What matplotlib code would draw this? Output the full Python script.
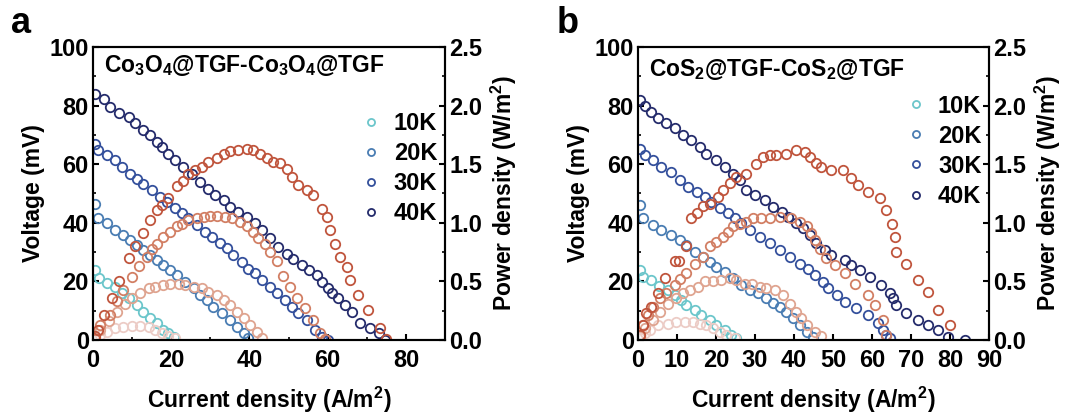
import matplotlib
matplotlib.use("Agg")
import matplotlib.pyplot as plt
from matplotlib.ticker import MultipleLocator

plt.rcParams['font.family'] = ['Liberation Sans', 'DejaVu Sans']
plt.rcParams['font.weight'] = 'bold'
plt.rcParams['axes.labelweight'] = 'bold'
plt.rcParams['mathtext.fontset'] = 'custom'
plt.rcParams['mathtext.rm'] = 'Liberation Sans:bold'
plt.rcParams['mathtext.it'] = 'Liberation Sans:bold'
plt.rcParams['mathtext.bf'] = 'Liberation Sans:bold'

labels = ["10K", "20K", "30K", "40K"]
v_colors = ["#6cc6cb", "#4a7db3", "#34509c", "#252c6c"]
p_colors = ["#ecccc6", "#dfa490", "#d27f64", "#c0553d"]

# panel a: Co3O4@TGF
a_xv10 = [0.4, 1.6, 3.6, 5.7, 7.4, 9.1, 11.2, 12.9, 14.6, 16.3, 18.0, 19.3, 20.6]
a_v10 = [23.9, 21.0, 19.3, 18.0, 15.9, 14.2, 11.9, 9.7, 7.4, 5.7, 3.4, 2.3, 1.1]
a_xp10 = [0.4, 1.9, 3.6, 5.7, 7.8, 10.0, 12.1, 14.2, 15.9, 17.6, 19.3, 21.0]
a_p10 = [0.01, 0.04, 0.07, 0.10, 0.11, 0.12, 0.12, 0.11, 0.085, 0.057, 0.034, 0.015]

a_xv20 = [0.4, 1.4, 3.6, 5.7, 7.8, 9.5, 11.2, 12.9, 14.6, 16.3, 18.0, 19.7, 21.4, 23.6,
          25.7, 27.4, 29.1, 30.8, 32.9, 35.1, 36.8, 38.5, 39.7]
a_v20 = [46.4, 41.5, 39.8, 37.5, 35.8, 34.1, 32.4, 30.7, 29.0, 27.3, 25.6, 23.9, 22.2, 19.9,
         17.6, 15.3, 13.6, 11.4, 9.1, 6.8, 4.5, 2.3, 0.6]
a_xp20 = [0.5, 1.9, 4.0, 6.1, 8.3, 10.0, 12.1, 14.2, 15.9, 18.0, 19.7, 21.9, 23.6, 25.7,
          27.8, 29.5, 31.7, 33.4, 35.1, 36.8, 38.5, 40.2, 41.9, 43.1]
a_p20 = [0.02, 0.085, 0.16, 0.24, 0.31, 0.355, 0.40, 0.44, 0.455, 0.47, 0.48, 0.48, 0.47, 0.455,
         0.44, 0.41, 0.38, 0.34, 0.30, 0.24, 0.185, 0.13, 0.07, 0.015]

a_xv30 = [0.4, 1.4, 3.6, 5.7, 7.4, 9.5, 11.2, 12.9, 15.1, 17.2, 18.9, 21.0, 22.7, 24.4, 26.6,
          28.7, 30.4, 32.6, 34.2, 35.9, 38.0, 39.7, 41.4, 43.1, 45.3, 47.0, 49.1, 50.8, 52.5,
          54.6, 56.8, 58.5, 60.2]
a_v30 = [67.0, 64.8, 63.1, 61.4, 59.1, 56.8, 55.1, 53.4, 51.1, 48.9, 47.2, 44.9, 43.2, 41.5, 39.2,
         36.9, 35.2, 33.0, 31.3, 29.0, 26.7, 24.4, 22.7, 20.5, 18.2, 15.9, 13.6, 11.4, 9.1,
         6.8, 3.4, 1.1, 0.0]
a_xp30 = [0.4, 1.9, 4.4, 6.1, 7.8, 10.0, 11.7, 13.8, 15.1, 16.3, 18.0, 19.7, 21.4, 22.7, 24.4,
          26.6, 28.3, 30.0, 31.7, 33.8, 35.5, 37.6, 39.3, 41.0, 42.3, 44.0, 45.3, 47.0, 48.7,
          50.4, 52.1, 54.2, 56.3, 58.0, 59.3]
a_p30 = [0.01, 0.13, 0.21, 0.33, 0.43, 0.54, 0.63, 0.71, 0.78, 0.82, 0.88, 0.92, 0.97, 0.99, 1.02,
         1.04, 1.05, 1.06, 1.06, 1.05, 1.04, 1.01, 0.97, 0.92, 0.87, 0.82, 0.75, 0.67, 0.55,
         0.45, 0.355, 0.27, 0.17, 0.06, 0.01]

a_xv40 = [0.6, 2.7, 4.4, 6.6, 9.1, 10.8, 12.9, 14.6, 16.3, 17.6, 19.3, 21.0, 23.1, 25.3, 27.4,
          29.5, 31.2, 33.4, 35.1, 37.2, 39.3, 41.4, 43.1, 45.3, 47.4, 49.6, 51.2, 53.4, 55.1,
          57.2, 58.5, 60.2, 61.0, 62.7, 64.4, 66.1, 68.3, 70.8, 73.0, 74.6]
a_v40 = [84.0, 82.4, 79.5, 77.5, 76.1, 73.9, 71.6, 69.9, 67.6, 65.9, 63.6, 61.4, 59.1, 56.8, 54.0,
         51.7, 49.4, 47.7, 45.5, 43.8, 42.0, 39.8, 37.5, 34.7, 31.8, 29.5, 27.8, 25.6, 23.9,
         22.2, 19.9, 17.6, 15.9, 14.2, 11.9, 9.7, 5.7, 4.0, 2.3, 0.0]
a_xp40 = [0.4, 1.3, 2.7, 4.9, 6.6, 9.1, 10.8, 12.9, 14.6, 16.3, 17.6, 19.3, 21.4, 23.1, 24.4,
          26.1, 27.8, 29.5, 31.7, 33.4, 35.1, 37.2, 39.3, 41.0, 42.7, 44.4, 46.1, 47.8, 49.5,
          50.8, 52.5, 54.6, 56.3, 58.5, 59.7, 60.6, 61.9, 63.1, 64.9, 65.7, 67.8, 70.4, 73.4, 75.0]
a_p40 = [0.03, 0.085, 0.21, 0.355, 0.50, 0.70, 0.80, 0.91, 1.02, 1.11, 1.15, 1.21, 1.31, 1.36, 1.42,
         1.45, 1.48, 1.52, 1.55, 1.59, 1.61, 1.62, 1.63, 1.62, 1.59, 1.55, 1.52, 1.51, 1.46,
         1.39, 1.32, 1.28, 1.24, 1.12, 1.05, 0.94, 0.82, 0.71, 0.625, 0.51, 0.38, 0.26, 0.10, 0.01]

# panel b: CoS2@TGF
b_xv10 = [0.4, 1.3, 3.4, 5.5, 7.7, 9.4, 11.1, 12.4, 14.5, 16.2, 18.4, 20.1, 22.2, 23.9, 25.2]
b_v10 = [23.9, 21.6, 20.5, 18.5, 17.0, 15.3, 13.6, 11.9, 10.2, 8.5, 6.8, 5.1, 3.4, 1.7, 0.6]
b_xp10 = [0.4, 1.7, 3.0, 5.1, 7.7, 9.8, 12.0, 14.1, 15.8, 17.5, 19.2, 20.9, 22.6, 24.8]
b_p10 = [0.015, 0.057, 0.085, 0.13, 0.14, 0.15, 0.155, 0.155, 0.14, 0.13, 0.10, 0.07, 0.04, 0.015]

b_xv20 = [0.4, 1.3, 3.8, 6.0, 8.5, 10.7, 12.4, 14.5, 16.7, 18.4, 20.1, 22.2, 24.4, 26.5, 28.6,
          30.8, 32.9, 34.6, 36.3, 38.0, 39.7, 41.5, 43.2, 44.9]
b_v20 = [46.0, 41.5, 39.2, 37.5, 35.8, 34.1, 32.4, 30.1, 28.4, 26.7, 25.0, 23.3, 21.0, 18.8, 17.0,
         15.9, 14.2, 12.5, 11.4, 9.7, 7.4, 5.1, 2.8, 1.1]
b_xp20 = [0.4, 1.7, 3.8, 5.6, 7.7, 9.8, 11.5, 13.2, 15.4, 17.1, 19.2, 21.4, 23.5, 25.2, 27.4,
          29.1, 31.2, 32.9, 35.0, 37.2, 38.9, 40.6, 41.9, 43.2, 45.3, 47.0]
b_p20 = [0.03, 0.10, 0.17, 0.24, 0.31, 0.355, 0.40, 0.43, 0.455, 0.50, 0.50, 0.51, 0.525, 0.51, 0.48,
         0.48, 0.455, 0.44, 0.43, 0.38, 0.31, 0.24, 0.185, 0.13, 0.07, 0.03]

b_xv30 = [0.4, 1.7, 3.8, 6.0, 8.5, 10.7, 12.8, 15.0, 17.1, 18.8, 20.9, 23.1, 24.8, 26.5, 28.6,
          31.2, 33.8, 36.3, 38.9, 41.5, 43.6, 45.3, 47.4, 48.7, 50.9, 53.0, 56.0, 59.0, 61.5,
          62.8, 63.7, 64.5]
b_v30 = [65.3, 63.1, 61.4, 59.1, 57.4, 54.5, 52.3, 50.6, 48.9, 47.2, 44.9, 43.2, 41.5, 39.8, 37.5,
         35.2, 33.0, 30.7, 28.4, 26.1, 24.4, 22.2, 19.9, 17.6, 15.3, 13.1, 10.8, 8.5, 5.7,
         3.4, 1.7, 0.6]
b_xp30 = [0.4, 1.3, 2.5, 3.8, 5.6, 7.3, 9.4, 10.7, 12.4, 14.5, 16.7, 18.4, 20.1, 21.8, 23.1,
          24.4, 26.1, 27.8, 29.5, 31.6, 33.8, 36.3, 39.3, 41.5, 43.2, 44.4, 45.3, 46.6, 48.3,
          50.4, 53.0, 55.6, 59.0, 60.7, 62.8, 63.7]
b_p30 = [0.04, 0.13, 0.21, 0.28, 0.355, 0.40, 0.47, 0.52, 0.57, 0.65, 0.71, 0.80, 0.84, 0.88, 0.92,
         0.97, 0.99, 1.01, 1.04, 1.04, 1.04, 1.05, 1.04, 1.01, 0.97, 0.91, 0.85, 0.78, 0.70,
         0.64, 0.57, 0.48, 0.38, 0.30, 0.17, 0.04]

b_xv40 = [0.4, 1.7, 3.4, 5.1, 7.3, 9.4, 11.5, 13.7, 15.8, 17.5, 20.1, 22.2, 24.4, 26.1, 27.8,
          29.9, 32.5, 34.6, 36.8, 38.5, 40.6, 42.3, 44.0, 45.7, 47.9, 49.6, 53.0, 54.7, 56.8,
          59.4, 62.4, 64.5, 65.4, 66.2, 68.8, 71.8, 74.4, 76.9, 79.5, 83.8]
b_v40 = [82.0, 79.8, 77.8, 75.9, 73.9, 72.2, 69.9, 68.2, 65.9, 63.6, 61.4, 59.1, 56.8, 54.5, 51.1,
         49.4, 47.7, 45.5, 43.8, 42.0, 39.8, 38.1, 35.8, 33.0, 30.7, 29.0, 27.3, 25.6, 23.9,
         21.6, 18.8, 15.9, 14.2, 11.9, 9.1, 6.8, 5.1, 3.4, 1.1, 0.0]
b_xp40 = [0.4, 1.3, 2.1, 3.4, 5.1, 6.8, 9.4, 10.5, 12.4, 13.7, 15.0, 16.7, 18.4, 20.5, 21.8,
          23.5, 25.2, 27.8, 30.3, 32.1, 33.8, 35.5, 38.0, 40.6, 42.7, 44.0, 45.7, 47.0, 49.6,
          52.6, 54.7, 56.4, 59.0, 62.0, 63.7, 65.0, 65.8, 66.2, 68.8, 71.8, 74.4, 76.9, 79.9]
b_p40 = [0.04, 0.13, 0.23, 0.28, 0.40, 0.525, 0.67, 0.67, 0.80, 1.04, 1.08, 1.14, 1.16, 1.22, 1.28,
         1.34, 1.39, 1.42, 1.50, 1.56, 1.58, 1.58, 1.59, 1.62, 1.60, 1.56, 1.51, 1.48, 1.45,
         1.45, 1.38, 1.32, 1.26, 1.21, 1.11, 0.99, 0.88, 0.75, 0.65, 0.51, 0.41, 0.26, 0.13]

a_volt = [(a_xv10, a_v10), (a_xv20, a_v20), (a_xv30, a_v30), (a_xv40, a_v40)]
a_pow = [(a_xp10, a_p10), (a_xp20, a_p20), (a_xp30, a_p30), (a_xp40, a_p40)]
b_volt = [(b_xv10, b_v10), (b_xv20, b_v20), (b_xv30, b_v30), (b_xv40, b_v40)]
b_pow = [(b_xp10, b_p10), (b_xp20, b_p20), (b_xp30, b_p30), (b_xp40, b_p40)]

fig = plt.figure(figsize=(10.86, 4.18), dpi=100)


def panel(rect, volt, pow_, title, letter, xmajor, xminor, leg_y, title_y):
    ax = fig.add_axes(rect)
    ax2 = ax.twinx()
    for i in range(4):
        x, v = volt[i]
        ax.plot(x, v, 'o', ms=6.8, mfc='none', mec=v_colors[i], mew=1.3, label=labels[i])
    for i in range(4):
        x, p = pow_[i]
        ax2.plot(x, p, 'o', ms=6.8, mfc='none', mec=p_colors[i], mew=1.3)
    ax.set_xlim(0, 90)
    ax.set_ylim(0, 100)
    ax2.set_ylim(0, 2.5)
    ax.xaxis.set_major_locator(MultipleLocator(xmajor))
    if xminor:
        ax.xaxis.set_minor_locator(MultipleLocator(xminor))
    ax.yaxis.set_major_locator(MultipleLocator(20))
    ax.yaxis.set_minor_locator(MultipleLocator(10))
    ax2.yaxis.set_major_locator(MultipleLocator(0.5))
    ax2.yaxis.set_minor_locator(MultipleLocator(0.25))
    ax2.yaxis.set_major_formatter(plt.FormatStrFormatter('%.1f'))
    for a in (ax, ax2):
        for s in a.spines.values():
            s.set_linewidth(1.5)
        a.tick_params(which='major', direction='in', length=4, width=1.5, labelsize=17, pad=3)
        a.tick_params(which='minor', direction='in', length=2.5, width=1.2)
    ax.tick_params(axis='x', which='major', pad=6.5)
    ax.tick_params(axis='y', which='both', right=False)
    ax.set_xlabel('Current density (A/m$^2$)', fontsize=16.5, labelpad=9)
    ax.set_ylabel('Voltage (mV)', fontsize=16.5, labelpad=3)
    ax2.set_ylabel('Power density (W/m$^2$)', fontsize=16.5, labelpad=5)
    ax.text(0.03, title_y, title, transform=ax.transAxes, fontsize=16.5, va='baseline', ha='left')
    ax.text(-0.232, 1.048, letter, transform=ax.transAxes, fontsize=26, va='baseline', ha='left')
    ax.legend(loc='upper left', bbox_to_anchor=(0.73, leg_y), frameon=False, fontsize=17,
              markerscale=0.75, handlelength=1.0, handletextpad=0.45, labelspacing=0.3,
              borderaxespad=0)
    return ax


panel([0.0856, 0.1866, 0.3242, 0.701], a_volt, a_pow,
      'Co$_3$O$_4$@TGF-Co$_3$O$_4$@TGF', 'a', 20, 10, 0.81, 0.915)
panel([0.5875, 0.1866, 0.3232, 0.701], b_volt, b_pow,
      'CoS$_2$@TGF-CoS$_2$@TGF', 'b', 10, None, 0.87, 0.90)

fig.savefig('out.png', dpi=100)
